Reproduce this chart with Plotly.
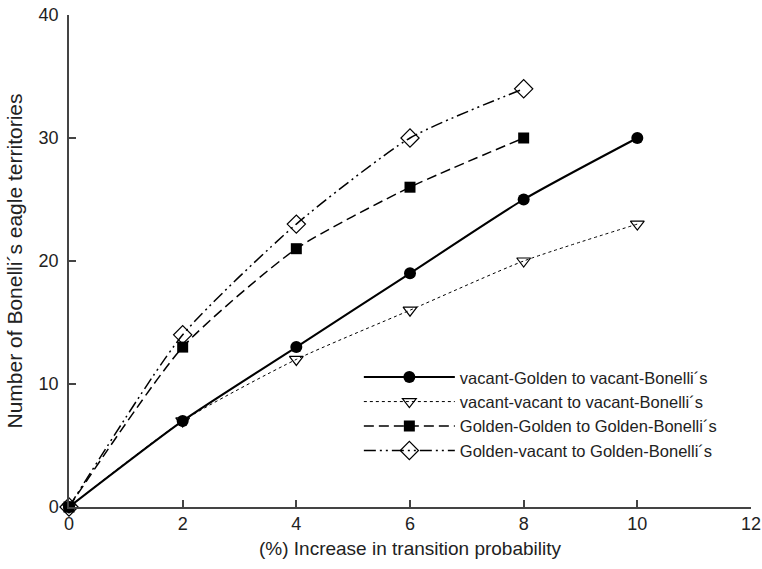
import plotly.graph_objects as go

x_full = [0, 2, 4, 6, 8, 10]
x_short = [0, 2, 4, 6, 8]

vg_to_vb = [0, 7, 13, 19, 25, 30]
vv_to_vb = [0, 7, 12, 16, 20, 23]
gg_to_gb = [0, 13, 21, 26, 30]
gv_to_gb = [0, 14, 23, 30, 34]

names = [
    "vacant-Golden to vacant-Bonelli´s",
    "vacant-vacant to vacant-Bonelli´s",
    "Golden-Golden to Golden-Bonelli´s",
    "Golden-vacant to Golden-Bonelli´s",
]

FAM = "Liberation Sans, Arial, sans-serif"
TXT = "#222"

fig = go.Figure()
fig.add_trace(go.Scatter(x=x_full, y=vg_to_vb, name=names[0], mode="lines+markers",
                         line=dict(color="black", width=2, shape="spline", smoothing=0.6),
                         marker=dict(symbol="circle", size=12, color="black"), cliponaxis=False))
fig.add_trace(go.Scatter(x=x_full, y=vv_to_vb, name=names[1], mode="lines+markers",
                         line=dict(color="black", width=1, dash="dot", shape="spline", smoothing=0.6),
                         marker=dict(symbol="triangle-down-open", size=12, color="black",
                                     line=dict(width=1.2)), cliponaxis=False))
fig.add_trace(go.Scatter(x=x_short, y=gg_to_gb, name=names[2], mode="lines+markers",
                         line=dict(color="black", width=1.5, dash="10px,5px", shape="spline", smoothing=0.6),
                         marker=dict(symbol="square", size=11, color="black"), cliponaxis=False))
fig.add_trace(go.Scatter(x=x_short, y=gv_to_gb, name=names[3], mode="lines+markers",
                         line=dict(color="black", width=1.5, dash="12px,4px,2px,4px,2px,4px",
                                   shape="spline", smoothing=0.6),
                         marker=dict(symbol="diamond-open", size=14, color="black",
                                     line=dict(width=1.2)), cliponaxis=False))

fig.update_layout(
    width=762, height=569,
    margin=dict(l=69, r=11, t=15, b=62, autoexpand=False),
    paper_bgcolor="white", plot_bgcolor="white",
    font=dict(family=FAM, size=16, color=TXT),
    showlegend=True,
    legend=dict(x=0.425, y=0.299, xanchor="left", yanchor="top",
                bgcolor="rgba(0,0,0,0)", font=dict(family=FAM, size=16.5, color=TXT),
                tracegroupgap=0, itemwidth=91),
    xaxis=dict(range=[0, 12], tickvals=[0, 2, 4, 6, 8, 10, 12], automargin=False,
               showgrid=False, zeroline=False, showline=True, linecolor="#444", linewidth=1.5,
               ticks="inside", ticklen=7, tickcolor="#444", tickwidth=1.5,
               ticklabeloverflow="allow",
               tickfont=dict(family=FAM, size=18, color=TXT),
               title=dict(text="(%) Increase in transition probability",
                          font=dict(family=FAM, size=19, color=TXT), standoff=8)),
    yaxis=dict(range=[0, 40], tickvals=[0, 10, 20, 30, 40], automargin=False,
               showgrid=False, zeroline=False, showline=True, linecolor="#444", linewidth=1.5,
               ticks="inside", ticklen=7, tickcolor="#444", tickwidth=1.5,
               ticklabeloverflow="allow",
               tickfont=dict(family=FAM, size=18, color=TXT), ticklabelstandoff=5,
               title=dict(text="Number of Bonelli´s eagle territories",
                          font=dict(family=FAM, size=21, color=TXT), standoff=10)),
)

fig.write_html("out.html", config={"displayModeBar": False},
               post_script="document.body.style.margin='0';document.body.style.overflow='hidden';")
